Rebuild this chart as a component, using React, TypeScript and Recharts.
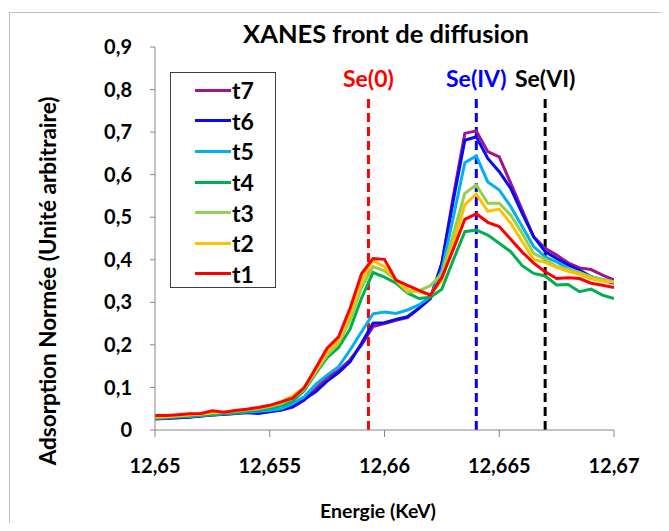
import React from 'react';
import { LineChart, Line, XAxis, YAxis, ReferenceLine, Legend } from 'recharts';

const energy = [
  12.65, 12.6505, 12.651, 12.6515, 12.652, 12.6525, 12.653, 12.6535, 12.654, 12.6545,
  12.655, 12.6555, 12.656, 12.6565, 12.657, 12.6575, 12.658, 12.6585, 12.659, 12.6595,
  12.66, 12.6605, 12.661, 12.6615, 12.662, 12.6625, 12.663, 12.6635, 12.664, 12.6645,
  12.665, 12.6655, 12.666, 12.6665, 12.667, 12.6675, 12.668, 12.6685, 12.669, 12.6695,
  12.67,
];

const t1 = [0.034, 0.034, 0.036, 0.038, 0.039, 0.045, 0.042, 0.046, 0.049, 0.053, 0.058, 0.066, 0.075, 0.099, 0.145, 0.192, 0.219, 0.286, 0.367, 0.403, 0.401, 0.352, 0.340, 0.328, 0.317, 0.358, 0.425, 0.495, 0.508, 0.488, 0.478, 0.448, 0.418, 0.392, 0.372, 0.356, 0.358, 0.356, 0.345, 0.340, 0.335];
const t2 = [0.031, 0.032, 0.034, 0.036, 0.038, 0.041, 0.042, 0.045, 0.048, 0.052, 0.057, 0.066, 0.080, 0.100, 0.140, 0.183, 0.210, 0.270, 0.350, 0.398, 0.384, 0.352, 0.329, 0.325, 0.317, 0.352, 0.440, 0.529, 0.555, 0.514, 0.519, 0.486, 0.443, 0.401, 0.394, 0.382, 0.373, 0.366, 0.355, 0.350, 0.347];
const t3 = [0.030, 0.031, 0.033, 0.035, 0.037, 0.040, 0.041, 0.044, 0.047, 0.050, 0.055, 0.062, 0.074, 0.096, 0.137, 0.176, 0.204, 0.258, 0.335, 0.384, 0.374, 0.352, 0.324, 0.327, 0.339, 0.368, 0.460, 0.556, 0.576, 0.533, 0.533, 0.505, 0.462, 0.415, 0.401, 0.384, 0.378, 0.370, 0.360, 0.354, 0.348];
const t4 = [0.027, 0.029, 0.031, 0.033, 0.035, 0.037, 0.039, 0.041, 0.044, 0.047, 0.051, 0.057, 0.068, 0.092, 0.133, 0.170, 0.194, 0.237, 0.310, 0.370, 0.359, 0.345, 0.322, 0.309, 0.312, 0.331, 0.400, 0.466, 0.470, 0.458, 0.439, 0.419, 0.386, 0.368, 0.362, 0.341, 0.342, 0.325, 0.331, 0.317, 0.309];
const t5 = [0.028, 0.029, 0.031, 0.032, 0.034, 0.036, 0.038, 0.040, 0.042, 0.044, 0.046, 0.050, 0.062, 0.078, 0.107, 0.129, 0.149, 0.188, 0.231, 0.273, 0.277, 0.274, 0.282, 0.294, 0.313, 0.376, 0.500, 0.628, 0.644, 0.583, 0.564, 0.525, 0.478, 0.431, 0.407, 0.395, 0.380, 0.368, 0.360, 0.354, 0.348];
const t6 = [0.026, 0.027, 0.029, 0.030, 0.033, 0.035, 0.037, 0.039, 0.041, 0.039, 0.043, 0.047, 0.055, 0.072, 0.090, 0.115, 0.135, 0.160, 0.204, 0.251, 0.252, 0.260, 0.266, 0.286, 0.309, 0.392, 0.540, 0.681, 0.689, 0.638, 0.607, 0.568, 0.509, 0.454, 0.419, 0.403, 0.388, 0.376, 0.360, 0.352, 0.345];
const t7 = [0.027, 0.028, 0.029, 0.031, 0.033, 0.035, 0.037, 0.039, 0.041, 0.040, 0.044, 0.047, 0.054, 0.070, 0.097, 0.124, 0.140, 0.165, 0.200, 0.243, 0.250, 0.258, 0.264, 0.286, 0.309, 0.392, 0.550, 0.697, 0.703, 0.654, 0.642, 0.580, 0.517, 0.454, 0.427, 0.411, 0.393, 0.381, 0.377, 0.364, 0.353];

const seriesNames = ['t7', 't6', 't5', 't4', 't3', 't2', 't1'];
const seriesValues = [t7, t6, t5, t4, t3, t2, t1];
const seriesColors = ['#A0148E', '#0A0AF0', '#00B0F0', '#00B050', '#92D050', '#FFC000', '#FF0000'];

const xTicks = [12.65, 12.655, 12.66, 12.665, 12.67];
const yTicks = [0, 0.1, 0.2, 0.3, 0.4, 0.5, 0.6, 0.7, 0.8, 0.9];

const refEnergies = [12.6593, 12.664, 12.667];
const refLabels = ['Se(0)', 'Se(IV)', 'Se(VI)'];
const refColors = ['#FF0000', '#0000FF', '#000000'];
const refTop = 0.78;

const data = energy.map((e, i) => {
  const row: Record<string, number> = { e };
  seriesNames.forEach((n, k) => {
    row[n] = seriesValues[k][i];
  });
  return row;
});

const FONT = 'Lato, "Open Sans", sans-serif';
const fmt = (v: number) => String(v).replace('.', ',');

const tickStyle = { fontFamily: FONT, fontWeight: 700, fontSize: 20, fill: '#000' };

const renderLegend = () => (
  <div
    style={{
      width: 106,
      height: 216,
      boxSizing: 'border-box',
      border: '1.5px solid #404040',
      background: '#fff',
      paddingTop: 2,
    }}
  >
    {seriesNames.map((n, k) => (
      <div key={n} style={{ display: 'flex', alignItems: 'center', height: 30.6, marginLeft: 24 }}>
        <div style={{ width: 36, height: 3, background: seriesColors[k] }} />
        <span style={{ fontFamily: FONT, fontWeight: 700, fontSize: 23, color: '#000', marginLeft: 1, lineHeight: '30px' }}>
          {n}
        </span>
      </div>
    ))}
  </div>
);

export default function App() {
  return (
    <div style={{ position: 'relative', width: 669, height: 531, margin: -8, overflow: 'hidden', background: '#fff' }}>
      <div
        style={{
          position: 'absolute',
          left: 9,
          top: 12,
          width: 700,
          height: 600,
          borderLeft: '1px solid #BFBFBF',
          borderTop: '1px solid #BFBFBF',
        }}
      />
      <div
        style={{
          position: 'absolute',
          left: 386,
          top: 33,
          transform: 'translate(-50%, -50%)',
          fontFamily: FONT,
          fontWeight: 700,
          fontSize: 25.5,
          whiteSpace: 'nowrap',
          color: '#000',
        }}
      >
        XANES front de diffusion
      </div>
      <div
        style={{
          position: 'absolute',
          left: 47,
          top: 281,
          transform: 'translate(-50%, -50%) rotate(-90deg)',
          fontFamily: FONT,
          fontWeight: 700,
          fontSize: 22.5,
          whiteSpace: 'nowrap',
          color: '#000',
        }}
      >
        Adsorption Normée (Unité arbitraire)
      </div>
      <div
        style={{
          position: 'absolute',
          left: 378,
          top: 510,
          transform: 'translate(-50%, -50%)',
          fontFamily: FONT,
          fontWeight: 700,
          fontSize: 19.5,
          whiteSpace: 'nowrap',
          color: '#000',
        }}
      >
        Energie (KeV)
      </div>
      <div style={{ position: 'absolute', left: 0, top: 0 }}>
        <LineChart width={669} height={531} data={data} margin={{ top: 47, right: 55, bottom: 71, left: 95 }}>
          <XAxis
            dataKey="e"
            type="number"
            domain={[12.65, 12.67]}
            ticks={xTicks}
            tickFormatter={fmt}
            tick={tickStyle}
            tickSize={7}
            tickMargin={22}
            height={30}
            stroke="#868686"
            allowDataOverflow
            interval={0}
          />
          <YAxis
            type="number"
            domain={[0, 0.9]}
            ticks={yTicks}
            tickFormatter={fmt}
            tick={tickStyle}
            tickSize={5}
            tickMargin={18}
            width={60}
            stroke="#868686"
            interval={0}
          />
          {refEnergies.map((x, k) => (
            <ReferenceLine
              key={refLabels[k]}
              segment={[
                { x, y: 0 },
                { x, y: refTop },
              ]}
              stroke={refColors[k]}
              strokeWidth={3}
              strokeDasharray="9 5"
              label={{
                value: refLabels[k],
                position: 'top',
                offset: 11,
                fill: refColors[k],
                fontFamily: FONT,
                fontWeight: 700,
                fontSize: 23,
              }}
            />
          ))}
          {seriesNames.map((n, k) => (
            <Line
              key={n}
              dataKey={n}
              name={n}
              type="linear"
              stroke={seriesColors[k]}
              strokeWidth={3}
              dot={false}
              activeDot={false}
              isAnimationActive={false}
            />
          ))}
          <Legend
            layout="vertical"
            align="center"
            verticalAlign="middle"
            content={renderLegend}
            wrapperStyle={{ left: 170, top: 72, width: 106, height: 216, right: 'auto', bottom: 'auto' }}
          />
        </LineChart>
      </div>
    </div>
  );
}
